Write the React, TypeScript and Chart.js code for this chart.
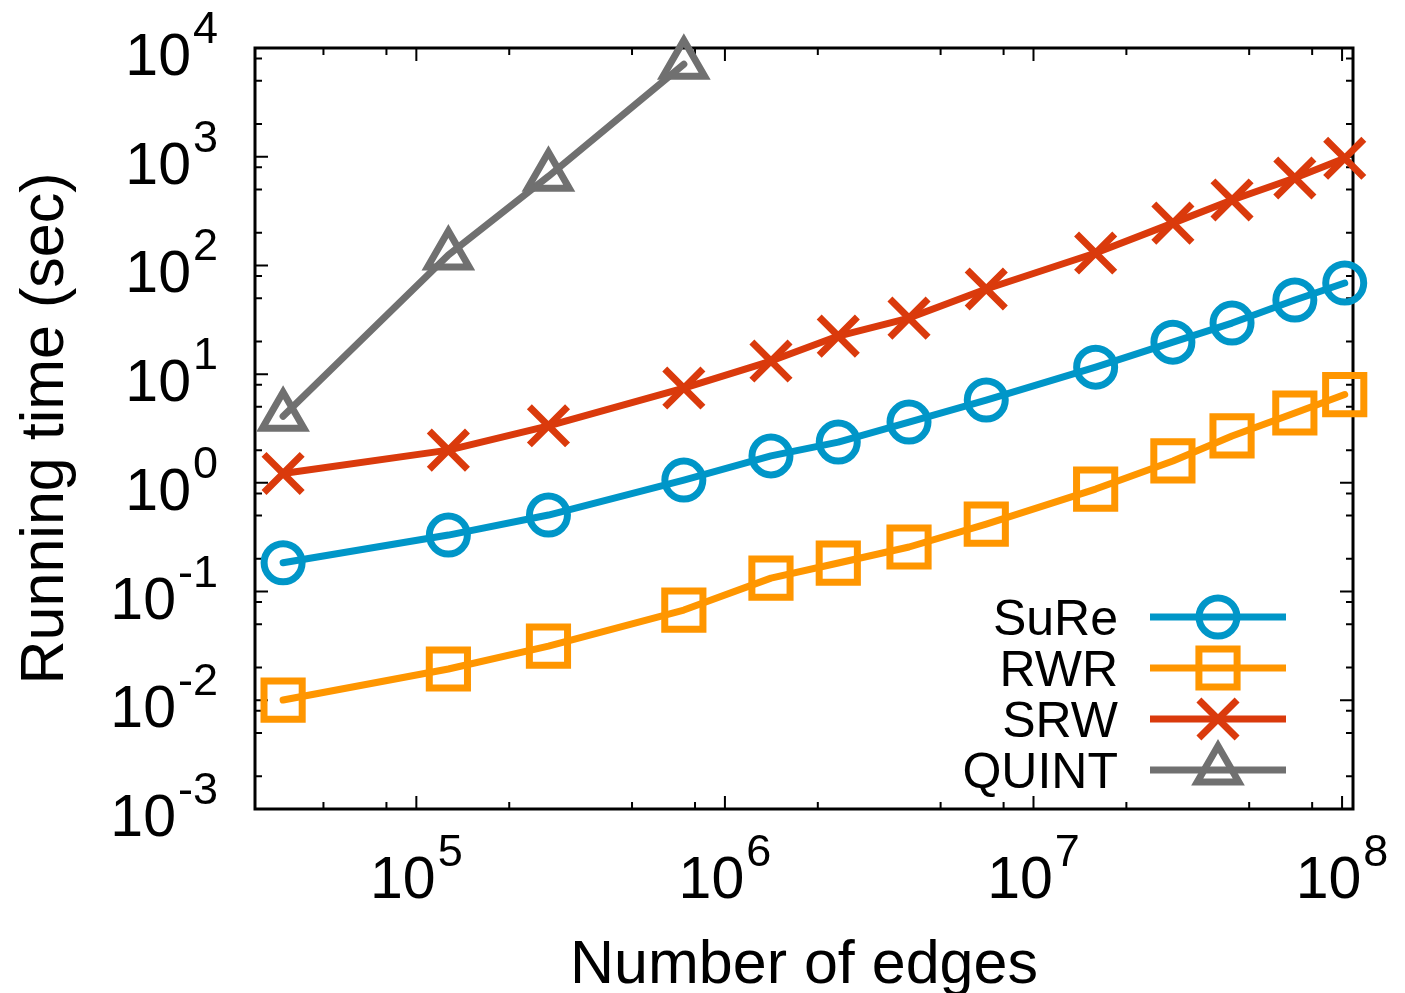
import React, { useEffect, useRef } from "react";
import { Chart, registerables } from "chart.js";
import { drawPoint } from "chart.js/helpers";

Chart.register(...registerables);

// ---- data ----
const edges = [3.7e4, 1.27e5, 2.68e5, 7.36e5, 1.41e6, 2.33e6, 3.95e6, 7.03e6, 1.59e7, 2.83e7, 4.4e7, 7.03e7, 1.02e8];
const sureTimes = [0.184, 0.331, 0.506, 1.06, 1.77, 2.37, 3.62, 5.78, 11.6, 19.7, 29.5, 48.1, 68.9];
const rwrTimes = [0.01005, 0.0194, 0.0315, 0.0676, 0.133, 0.183, 0.257, 0.418, 0.877, 1.59, 2.7, 4.39, 6.49];
const srwTimes = [1.22, 2.0, 3.35, 7.45, 13.2, 22.4, 32.8, 60.7, 130, 245, 400, 637, 967];
const quintTimes = [4.09, 125, 660, 7080];

const seriesNames = ["SuRe", "RWR", "SRW", "QUINT"];
const seriesColors = ["#0096C8", "#FF9600", "#DA3A0C", "#707070"];
const seriesStyles = ["circle", "rect", "crossRot", "triangle"];
const seriesRadii = [19, 27, 27, 24];

const xMajorExponents = [5, 6, 7, 8];
const yMajorExponents = [-3, -2, -1, 0, 1, 2, 3, 4];
const minorMultipliers = [2, 5, 8];
const xMin = 3.0e4;
const xMax = 1.085e8;
const yMin = 1e-3;
const yMax = 1e4;

const xTitle = "Number of edges";
const yTitle = "Running time (sec)";

const FONT = '"Liberation Sans", Arial, Helvetica, sans-serif';
const LINE_W = 7;

const axesPlugin = {
  id: "gnuplotAxes",
  beforeDatasetsDraw(chart: any) {
    const { ctx, chartArea, scales } = chart;
    const xs = scales.x;
    const ys = scales.y;
    const { left, right, top, bottom } = chartArea;
    ctx.save();
    ctx.strokeStyle = "#000";
    ctx.lineCap = "butt";
    ctx.lineWidth = 2;

    // x ticks (inside, mirrored)
    for (let e = xMajorExponents[0] - 1; e <= xMajorExponents[xMajorExponents.length - 1]; e++) {
      for (const m of [1, ...minorMultipliers]) {
        const v = m * Math.pow(10, e);
        if (v < xs.min || v > xs.max) continue;
        const px = xs.getPixelForValue(v);
        const len = m === 1 ? 13 : 7;
        ctx.beginPath();
        ctx.moveTo(px, bottom);
        ctx.lineTo(px, bottom - len);
        ctx.moveTo(px, top);
        ctx.lineTo(px, top + len);
        ctx.stroke();
      }
    }
    // y ticks
    for (let e = yMajorExponents[0] - 1; e <= yMajorExponents[yMajorExponents.length - 1]; e++) {
      for (const m of [1, ...minorMultipliers]) {
        const v = m * Math.pow(10, e);
        if (v < ys.min * 0.999 || v > ys.max * 1.001) continue;
        const py = ys.getPixelForValue(v);
        const len = m === 1 ? 13 : 7;
        ctx.beginPath();
        ctx.moveTo(left, py);
        ctx.lineTo(left + len, py);
        ctx.moveTo(right, py);
        ctx.lineTo(right - len, py);
        ctx.stroke();
      }
    }
    // border
    ctx.lineWidth = 3;
    ctx.strokeRect(left, top, right - left, bottom - top);

    // tick labels
    ctx.fillStyle = "#000";
    ctx.textAlign = "left";
    ctx.textBaseline = "alphabetic";
    const mainFont = `59px ${FONT}`;
    const supFont = `45px ${FONT}`;

    for (const e of yMajorExponents) {
      const py = ys.getPixelForValue(Math.pow(10, e));
      const mainBase = py + 27;
      const supBase = mainBase - 32;
      const sup = String(e);
      ctx.font = supFont;
      const supW = ctx.measureText(sup).width;
      ctx.fillText(sup, 218 - supW, supBase);
      ctx.font = mainFont;
      const mainW = ctx.measureText("10").width;
      ctx.fillText("10", 218 - supW - 2 - mainW, mainBase);
    }

    for (const e of xMajorExponents) {
      const px = xs.getPixelForValue(Math.pow(10, e));
      const sup = String(e);
      ctx.font = supFont;
      const supW = ctx.measureText(sup).width;
      ctx.font = mainFont;
      const mainW = ctx.measureText("10").width;
      const total = mainW + 2 + supW;
      const start = px - total / 2;
      ctx.fillText("10", start, 898);
      ctx.font = supFont;
      ctx.fillText(sup, start + mainW + 2, 866);
    }

    // axis titles
    ctx.font = `61px ${FONT}`;
    ctx.textAlign = "center";
    ctx.fillText(xTitle, (left + right) / 2, 983);
    ctx.save();
    ctx.translate(63, (top + bottom) / 2);
    ctx.rotate(-Math.PI / 2);
    ctx.fillText(yTitle, 0, 0);
    ctx.restore();

    ctx.restore();
  },
};

const legendPlugin = {
  id: "gnuplotLegend",
  afterDatasetsDraw(chart: any) {
    const { ctx } = chart;
    ctx.save();
    const textRight = 1118;
    const lineStart = 1150;
    const lineEnd = 1286;
    const markerX = 1218;
    const firstRow = 617;
    const rowStep = 51;
    chart.data.datasets.forEach((ds: any, i: number) => {
      const y = firstRow + i * rowStep;
      ctx.fillStyle = "#000";
      ctx.font = `50px ${FONT}`;
      ctx.textAlign = "right";
      ctx.textBaseline = "alphabetic";
      ctx.fillText(ds.label, textRight, y + 18);
      ctx.strokeStyle = ds.borderColor;
      ctx.lineWidth = LINE_W;
      ctx.lineCap = "butt";
      ctx.beginPath();
      ctx.moveTo(lineStart, y);
      ctx.lineTo(lineEnd, y);
      ctx.stroke();
      ctx.fillStyle = "rgba(0,0,0,0)";
      ctx.lineWidth = LINE_W;
      drawPoint(ctx, { pointStyle: ds.pointStyle, radius: ds.pointRadius, borderWidth: LINE_W, rotation: 0 } as any, markerX, y);
    });
    ctx.restore();
  },
};

export default function App() {
  const canvasRef = useRef<HTMLCanvasElement | null>(null);

  useEffect(() => {
    document.body.style.margin = "0";
    const canvas = canvasRef.current;
    if (!canvas) return;
    const allTimes = [sureTimes, rwrTimes, srwTimes, quintTimes];
    const datasets = seriesNames.map((name, i) => ({
      label: name,
      data: allTimes[i].map((t, j) => ({ x: edges[j], y: t })),
      borderColor: seriesColors[i],
      backgroundColor: "rgba(0,0,0,0)",
      borderWidth: LINE_W,
      borderCapStyle: "round",
      borderJoinStyle: "round",
      pointStyle: seriesStyles[i],
      pointRadius: seriesRadii[i],
      pointBorderWidth: LINE_W,
      pointBorderColor: seriesColors[i],
      pointBackgroundColor: "rgba(0,0,0,0)",
      tension: 0,
      clip: false,
      order: seriesNames.length - i,
    }));

    const chart = new Chart(canvas, {
      type: "line",
      data: { datasets } as any,
      options: {
        responsive: false,
        animation: false,
        devicePixelRatio: 1,
        events: [],
        layout: { padding: { left: 255, right: 52, top: 48, bottom: 184 } },
        scales: {
          x: { type: "logarithmic", min: xMin, max: xMax, display: false },
          y: { type: "logarithmic", min: yMin, max: yMax, display: false },
        },
        plugins: {
          legend: { display: false },
          tooltip: { enabled: false },
        },
      } as any,
      plugins: [axesPlugin, legendPlugin],
    });
    return () => chart.destroy();
  }, []);

  return (
    <div style={{ width: 1405, height: 993, background: "#fff" }}>
      <canvas ref={canvasRef} width={1405} height={993} style={{ display: "block" }} />
    </div>
  );
}
